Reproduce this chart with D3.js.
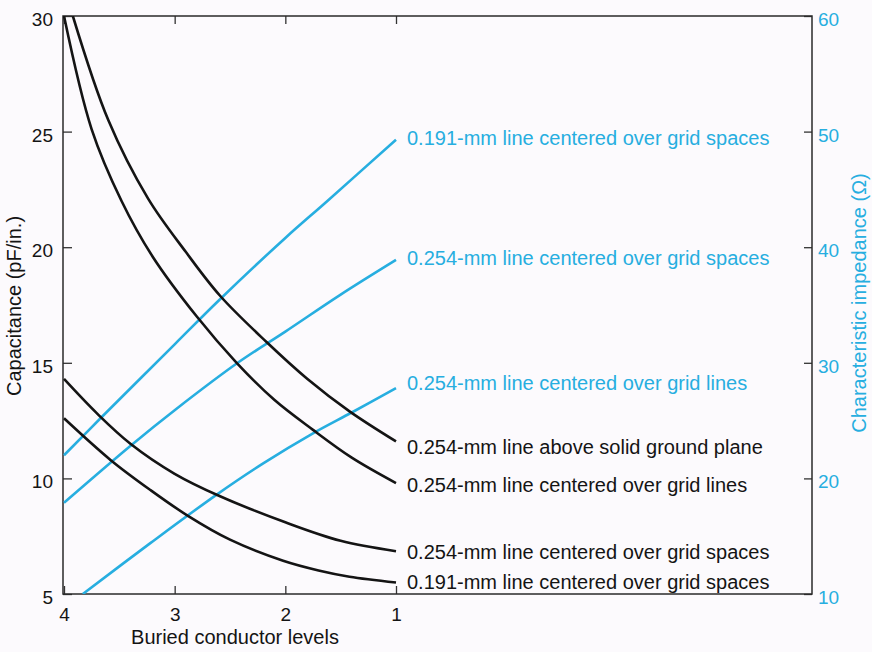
<!DOCTYPE html>
<html>
<head>
<meta charset="utf-8">
<script src="https://cdn.jsdelivr.net/npm/d3@7/dist/d3.min.js"></script>
<style>
  body { margin: 0; background: #fcfafd; }
  svg { display: block; font-family: "Liberation Sans", Arial, sans-serif; }
</style>
</head>
<body>
<div id="chart"></div>
<script>
// Buried conductor levels on the x axis
const levelTicks = [4, 3, 2, 1];
const capTicks = [5, 10, 15, 20, 25, 30];
const impTicks = [10, 20, 30, 40, 50, 60];

// Capacitance curves (pF/in.), [level, value]
const capGroundPlane = [[3.92, 30], [3.6, 25.5], [3.24, 22.1], [2.9, 19.8], [2.59, 17.9], [2.17, 15.9], [1.8, 14.3], [1.42, 12.9], [1.0, 11.6]];
const capGridLines254 = [[4, 30], [3.75, 25.1], [3.48, 22.0], [3.2, 19.6], [2.8, 17.0], [2.44, 15.0], [2.1, 13.4], [1.75, 12.1], [1.4, 10.9], [1.0, 9.8]];
const capGridSpaces254 = [[4, 14.3], [3.7, 12.8], [3.4, 11.5], [3.0, 10.2], [2.6, 9.25], [2.0, 8.1], [1.5, 7.3], [1.0, 6.85]];
const capGridSpaces191 = [[4, 12.6], [3.58, 10.8], [3.22, 9.5], [2.88, 8.38], [2.5, 7.35], [2.02, 6.44], [1.7, 6.02], [1.42, 5.75], [1.0, 5.5]];

// Characteristic impedance curves (ohm), [level, value]
const impGridSpaces191 = [[4, 22.0], [3.67, 25.2], [3.0, 31.6], [2.59, 35.5], [2.0, 40.8], [1.62, 44.0], [1.0, 49.3]];
const impGridSpaces254 = [[4, 17.9], [3.39, 22.9], [3.0, 25.9], [2.43, 30.0], [2.0, 32.7], [1.5, 35.9], [1.0, 38.9]];
const impGridLines254 = [[3.83, 10], [3.22, 14.4], [2.62, 18.6], [2.2, 21.3], [1.75, 23.9], [1.4, 25.7], [1.0, 27.8]];

const capSeries = [capGroundPlane, capGridLines254, capGridSpaces254, capGridSpaces191];
const capLabels = [
  "0.254-mm line above solid ground plane",
  "0.254-mm line centered over grid lines",
  "0.254-mm line centered over grid spaces",
  "0.191-mm line centered over grid spaces"
];
const impSeries = [impGridSpaces191, impGridSpaces254, impGridLines254];
const impLabels = [
  "0.191-mm line centered over grid spaces",
  "0.254-mm line centered over grid spaces",
  "0.254-mm line centered over grid lines"
];

const width = 872, height = 652;
const plot = { left: 63, top: 16, right: 812, bottom: 594 };
const cyan = "#27aee0";
const ink = "#141414";

const svg = d3.select("#chart").append("svg")
  .attr("width", width)
  .attr("height", height);

const x = d3.scaleLinear().domain([4, 1]).range([64, 396]);
const yCap = d3.scaleLinear().domain([5, 30]).range([plot.bottom, plot.top]);
const yImp = d3.scaleLinear().domain([10, 60]).range([plot.bottom, plot.top]);

svg.append("clipPath").attr("id", "plotClip")
  .append("rect")
  .attr("x", plot.left).attr("y", plot.top)
  .attr("width", plot.right - plot.left)
  .attr("height", plot.bottom - plot.top);

// axes (ticks point inward)
const leftAxis = svg.append("g")
  .attr("transform", `translate(${plot.left},0)`)
  .call(d3.axisLeft(yCap).tickValues(capTicks).tickSizeInner(-9).tickSizeOuter(0).tickPadding(10));
const rightAxis = svg.append("g")
  .attr("transform", `translate(${plot.right},0)`)
  .call(d3.axisRight(yImp).tickValues(impTicks).tickSizeInner(-8).tickSizeOuter(0).tickPadding(6));
const bottomAxis = svg.append("g")
  .attr("transform", `translate(0,${plot.bottom})`)
  .call(d3.axisBottom(x).tickValues(levelTicks).tickFormat(d3.format("d"))
    .tickSizeInner(-8).tickSizeOuter(0).tickPadding(14));
const topAxis = svg.append("g")
  .attr("transform", `translate(0,${plot.top})`)
  .call(d3.axisTop(x).tickValues(levelTicks).tickSizeInner(-8).tickSizeOuter(0).tickFormat(""));

[leftAxis, rightAxis, bottomAxis, topAxis].forEach(g => {
  g.select(".domain").remove();
  g.selectAll(".tick line").attr("stroke", "#333").attr("stroke-width", 1.3);
  g.selectAll(".tick text").style("font-size", "19px").attr("font-family", null);
});
leftAxis.selectAll(".tick text").attr("fill", ink).attr("dy", "0.5em");
rightAxis.selectAll(".tick text").attr("fill", cyan).attr("dy", "0.5em");
bottomAxis.selectAll(".tick text").attr("fill", ink);

// frame
svg.append("rect")
  .attr("x", plot.left).attr("y", plot.top)
  .attr("width", plot.right - plot.left)
  .attr("height", plot.bottom - plot.top)
  .attr("fill", "none")
  .attr("stroke", "#2a2a2a")
  .attr("stroke-width", 1.5);

// curves
const smooth = d3.curveCatmullRom.alpha(0.5);
const capLine = d3.line().x(d => x(d[0])).y(d => yCap(d[1])).curve(smooth);
const impLine = d3.line().x(d => x(d[0])).y(d => yImp(d[1])).curve(smooth);

const curves = svg.append("g").attr("clip-path", "url(#plotClip)");

curves.selectAll("path.imp")
  .data(impSeries)
  .join("path")
  .attr("class", "imp")
  .attr("d", d => impLine(d))
  .attr("fill", "none")
  .attr("stroke", cyan)
  .attr("stroke-width", 2.6);

curves.selectAll("path.cap")
  .data(capSeries)
  .join("path")
  .attr("class", "cap")
  .attr("d", d => capLine(d))
  .attr("fill", "none")
  .attr("stroke", ink)
  .attr("stroke-width", 2.6);

// curve labels, placed at the right end of each curve
const capNudge = [6, 2, 1, 0];
const impNudge = [-2, -2, -5];
const labelX = 407;

svg.selectAll("text.cap-label")
  .data(capSeries)
  .join("text")
  .attr("class", "cap-label")
  .attr("x", labelX)
  .attr("y", (d, i) => yCap(d[d.length - 1][1]) + capNudge[i])
  .attr("dy", "0.35em")
  .attr("fill", ink)
  .style("font-size", "20px")
  .text((d, i) => capLabels[i]);

svg.selectAll("text.imp-label")
  .data(impSeries)
  .join("text")
  .attr("class", "imp-label")
  .attr("x", labelX)
  .attr("y", (d, i) => yImp(d[d.length - 1][1]) + impNudge[i])
  .attr("dy", "0.35em")
  .attr("fill", cyan)
  .style("font-size", "20px")
  .text((d, i) => impLabels[i]);

// axis titles
svg.append("text")
  .attr("x", 235).attr("y", 644)
  .attr("text-anchor", "middle")
  .attr("fill", ink)
  .style("font-size", "20px")
  .text("Buried conductor levels");

svg.append("text")
  .attr("transform", "translate(21,306) rotate(-90)")
  .attr("text-anchor", "middle")
  .attr("fill", ink)
  .style("font-size", "20px")
  .text("Capacitance (pF/in.)");

svg.append("text")
  .attr("transform", "translate(866,303) rotate(-90)")
  .attr("text-anchor", "middle")
  .attr("fill", cyan)
  .style("font-size", "20px")
  .text("Characteristic impedance (Ω)");
</script>
</body>
</html>
